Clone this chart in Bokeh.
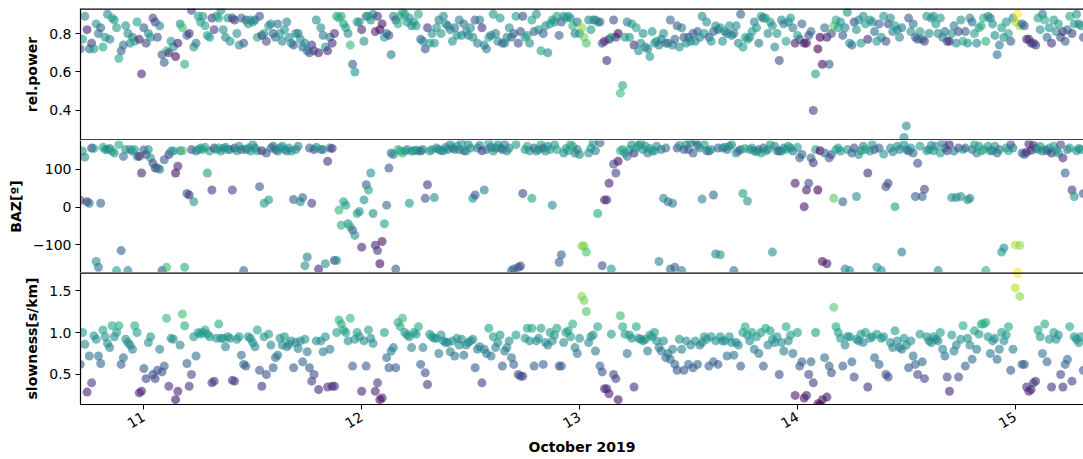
import math
import pandas as pd
from bokeh.plotting import figure
from bokeh.layouts import column
from bokeh.models import (ColumnDataSource, LinearColorMapper, FixedTicker,
                          DatetimeTickFormatter, PrintfTickFormatter, Range1d, Span)
from bokeh.palettes import Viridis256
from bokeh.embed import file_html
from bokeh.resources import INLINE

# Array-processing results, one estimate every 15 minutes
t_start = "2019-10-10 17:00"
t_step = "15min"

rel_power = [
    0.72, 0.77, 0.89, 0.82, 0.72, 0.75, 0.72, 0.85, 0.8, 0.83, 0.73, 0.78, 0.9,
    0.77, 0.88, 0.87, 0.83, 0.67, 0.71, 0.74, 0.84, 0.8, 0.75, 0.78, 0.76, 0.86,
    0.77, 0.59, 0.83, 0.75, 0.8, 0.78, 0.88, 0.86, 0.78, 0.84, 0.69, 0.65, 0.71,
    0.7, 0.76, 0.73, 0.68, 0.75, 0.85, 0.83, 0.64, 0.79, 0.8, 0.92, 0.73, 0.75, 0.89,
    0.86, 0.89, 0.84, 0.79, 0.78, 0.88, 0.82, 0.89, 0.88, 0.92, 0.82, 0.78, 0.88,
    0.76, 0.88, 0.87, 0.8, 0.74, 0.88, 0.75, 0.87, 0.85, 0.87, 0.86, 0.87, 0.78,
    0.89, 0.79, 0.8, 0.76, 0.84, 0.85, 0.8, 0.78, 0.85, 0.8, 0.76, 0.82, 0.86,
    0.78, 0.75, 0.74, 0.8, 0.8, 0.77, 0.73, 0.75, 0.71, 0.7, 0.74, 0.71, 0.87,
    0.7, 0.83, 0.79, 0.73, 0.71, 0.78, 0.75, 0.8, 0.89, 0.88, 0.89, 0.85, 0.83,
    0.8, 0.74, 0.64, 0.6, 0.86,
    0.86, 0.82, 0.76, 0.89, 0.89, 0.87, 0.9, 0.81, 0.89, 0.82, 0.85, 0.78, 0.8,
    0.79, 0.69, 0.89, 0.87, 0.85, 0.89, 0.91, 0.9, 0.86, 0.88, 0.84, 0.86, 0.84,
    0.9, 0.77, 0.76, 0.72, 0.83, 0.75, 0.8, 0.75, 0.83, 0.87, 0.8, 0.89, 0.85,
    0.84, 0.82, 0.76, 0.83, 0.79, 0.87, 0.79, 0.85, 0.81, 0.79, 0.83, 0.78, 0.87, 0.75,
    0.87, 0.83, 0.74, 0.72, 0.78, 0.79, 0.9, 0.8, 0.76, 0.88, 0.75, 0.75, 0.78,
    0.83, 0.78, 0.8, 0.89, 0.75, 0.81, 0.89, 0.78, 0.79, 0.75, 0.87, 0.81, 0.9,
    0.82, 0.71, 0.8, 0.84, 0.7, 0.85, 0.87, 0.86, 0.89, 0.79, 0.86, 0.89, 0.88,
    0.89, 0.88, 0.84, 0.8, 0.86, 0.8, 0.83, 0.78, 0.75, 0.87, 0.82, 0.87, 0.87, 0.86,
    0.86, 0.75, 0.76, 0.66, 0.77, 0.78, 0.87, 0.78, 0.8, 0.49, 0.53, 0.78, 0.86,
    0.78, 0.85, 0.74, 0.83, 0.71, 0.75, 0.8, 0.73, 0.72, 0.68, 0.81, 0.75, 0.76,
    0.74, 0.77, 0.8, 0.75, 0.75, 0.87, 0.74, 0.77, 0.84, 0.73, 0.83, 0.78, 0.75,
    0.78, 0.76, 0.8, 0.76, 0.81, 0.78, 0.89, 0.8, 0.86, 0.78, 0.76, 0.81, 0.84, 0.82,
    0.83, 0.76, 0.81, 0.8, 0.84, 0.79, 0.8, 0.84, 0.75, 0.9, 0.73, 0.78, 0.77,
    0.78, 0.81, 0.86, 0.83, 0.75, 0.89, 0.88, 0.88, 0.8, 0.86, 0.84, 0.73, 0.8, 0.66,
    0.87, 0.85, 0.76, 0.86, 0.88, 0.83, 0.75, 0.79, 0.77, 0.85, 0.75, 0.75, 0.79,
    0.81, 0.4, 0.59, 0.72, 0.78, 0.64, 0.83, 0.78, 0.64, 0.8, 0.84, 0.87, 0.83, 0.86,
    0.79, 0.83, 0.91, 0.75, 0.74, 0.86, 0.82, 0.87, 0.75, 0.89, 0.85, 0.77, 0.87,
    0.86, 0.81, 0.76, 0.85, 0.78, 0.89, 0.76, 0.85, 0.88, 0.81, 0.84, 0.82, 0.78,
    0.83, 0.26, 0.32, 0.88, 0.81, 0.85, 0.78, 0.77, 0.81, 0.77, 0.76, 0.89, 0.8, 0.88,
    0.89, 0.85, 0.8, 0.88, 0.78, 0.81, 0.76, 0.76, 0.8, 0.84, 0.75, 0.81, 0.87,
    0.76, 0.81, 0.75, 0.88, 0.86, 0.8, 0.75, 0.83, 0.84, 0.88, 0.76, 0.89, 0.88,
    0.85, 0.79, 0.69, 0.74, 0.83, 0.78, 0.86, 0.8, 0.76, 0.88, 0.86, 0.9, 0.84, 0.85,
    0.84, 0.77, 0.77, 0.75, 0.75, 0.74, 0.88, 0.82, 0.9, 0.87, 0.78, 0.83, 0.75,
    0.87, 0.81, 0.85, 0.78, 0.81, 0.76, 0.82, 0.89, 0.8, 0.85, 0.9, 0.85, 0.84, 0.78,
]

baz = [
    18, 148, 132, 14, 10, 156, 155, -144, -159, 10, 158, 152, 152,
    155, 148, 143, -168, 165, -115, 134, 152, -168, 152, 148, 152, 134,
    134, 90, 151, 139, 152, 130, 116, 103, 103, 100, -168, 125, -159,
    139, 148, 148, 90, 108, 149, 149, -159, 36, 32, 152, 14, 148, 152,
    156, 152, 158, 90, 148, 45, 156, 152, 156, 148, 155, 158, 152,
    152, 45, 156, 149, 161, 152, -168, 152, 156, 148, 165, 156, 149,
    54, 149, 10, 143, 19, 156, 161, 152, 148, 156, 161, 152, 148,
    156, 148, 20, 152, 161, 14, 25, -155, -132, 156, 10, 152, 158,
    -164, 152, 152, -150, 121, 156, 155, -141, -141, -8, -48, 14, 5,
    -44, -52, -61, -75, -17,
    -12, -106, 19, 59, 45, 90, -17, -101, -115, -150, -91, -44, 5,
    103, 143, 139, -164, 152, 148, 143, 148, 152, 10, 148, 149, 150,
    149, 148, 152, 23, 59, 148, 152, 25, 156, 152, 149, 149, 158,
    152, 165, 156, 152, 161, 152, 170, 149, 148, 165, 156, 23, 32, 156,
    163, 149, 45, 152, 170, 158, 148, 156, 165, 156, 152, 165, 148,
    156, -168, -164, 165, -159, -156, 36, 152, 161, 149, 23, 156, 148,
    152, 165, 156, 148, 161, 152, 5, 165, 152, -146, -126, 143, 155,
    149, 165, 161, 143, 152, 139, -103, -103, -119, 143, 156, 170, 149, -17,
    170, -155, 19, 19, 63, -164, 114, 90, 121, 149, 152, 143, 134,
    152, 165, 143, 156, 163, 170, 152, 161, 143, 155, 148, 149, 161,
    -144, 152, 23, 156, 14, -164, 10, -159, 156, 163, -168, 152, 165,
    152, 170, 143, 174, 163, 156, 21, 165, 149, 148, 152, 32, -124, 156,
    -126, 156, 158, 152, 161, 165, -168, 143, 148, 152, 36, 155, 16,
    152, 156, 149, 146, 152, 143, 156, 148, 152, 165, -119, 161, 149, 148,
    148, 156, 152, 161, 156, 148, 63, 158, 130, 139, 1, 45, 63,
    130, 117, 152, 45, 149, -144, 143, -150, 130, 139, 23, 152, 156, 148,
    14, -164, 152, -168, 143, 156, 28, 139, 149, 161, 152, 90, 148,
    165, 152, -159, 156, -168, 140, 54, 63, 156, 146, 1, 161, 152,
    -119, 165, 152, 148, 156, 143, 28, 116, 161, 28, 47, 149, 152, 163,
    149, 161, -168, 143, 170, 156, 149, 165, 25, 148, 25, 156, 28,
    152, 156, 19, 23, 152, 165, 143, 161, 148, 152, -168, 161, 149,
    149, 161, 143, 152, -119, -108, 156, 149, 165, 156, -100, -172, -101, 143,
    139, 145, 167, 150, 163, 155, 152, 160, 148, 152, 149, 156, 143,
    161, 148, 143, 165, 130, 90, 152, 156, 45, 28, 149, 155, 152, 36,
]

slowness = [
    0.62, 1.0, 0.86, 0.29, 0.72, 0.4, 0.96, 0.92, 0.72, 0.63, 1.03, 0.95, 0.87,
    0.82, 1.08, 0.95, 1.0, 1.08, 0.62, 0.7, 0.92, 0.88, 0.85, 0.8, 1.08, 1.0,
    0.28, 0.3, 0.57, 0.45, 0.88, 0.95, 0.5, 0.45, 0.55, 0.8, 0.53, 0.6, 1.17,
    0.36, 0.93, 0.92, 0.2, 0.3, 0.85, 1.22, 1.08, 0.63, 0.36, 0.5, 0.95, 0.72, 1.0,
    0.98, 1.0, 1.03, 0.98, 0.95, 0.4, 0.42, 0.93, 1.1, 0.93, 0.93, 0.83, 0.95,
    0.93, 0.43, 0.42, 0.92, 0.95, 0.73, 0.62, 0.6, 0.95, 0.93, 0.88, 0.83, 1.03,
    0.55, 0.36, 0.95, 0.5, 0.98, 0.85, 0.58, 0.7, 0.73, 0.93, 0.85, 0.95, 0.83,
    0.86, 0.9, 0.58, 0.88, 0.81, 0.9, 0.65, 0.92, 0.77, 0.58, 0.42, 0.5, 0.9,
    0.32, 0.9, 0.77, 0.95, 0.35, 0.8, 0.36, 0.36, 1.0, 1.15, 1.1, 1.03, 1.0,
    0.9, 1.17, 0.6, 0.92, 1.0,
    0.95, 0.3, 0.9, 0.6, 1.03, 0.93, 0.87, 0.3, 0.4, 0.2, 0.22, 1.0, 0.7,
    0.58, 0.78, 0.82, 0.58, 1.12, 1.07, 1.17, 1.0, 0.97, 0.95, 0.82, 1.0, 0.98,
    1.07, 0.62, 0.82, 0.52, 0.38, 0.98, 0.95, 0.93, 0.93, 0.75, 0.97, 0.9, 0.88,
    0.88, 0.77, 0.9, 0.72, 0.93, 0.85, 0.92, 0.73, 0.85, 0.88, 0.9, 0.92, 0.58, 0.8,
    0.83, 0.4, 0.8, 0.75, 1.05, 0.72, 0.95, 0.82, 0.88, 0.97, 0.6, 0.78, 0.82,
    0.9, 0.7, 0.62, 0.97, 0.5, 0.48, 0.48, 0.93, 1.05, 0.9, 1.05, 0.6, 0.9,
    0.93, 1.05, 0.62, 0.88, 0.85, 1.0, 0.9, 0.97, 1.05, 0.6, 0.6, 0.88, 1.0,
    1.02, 0.95, 1.1, 0.82, 0.75, 0.93, 1.43, 1.38, 1.25, 0.88, 0.95, 0.97, 0.78, 1.07,
    0.6, 0.53, 0.33, 0.33, 0.27, 0.98, 0.5, 0.45, 0.2, 1.2, 1.07, 0.98, 0.75,
    0.97, 0.93, 0.35, 1.07, 0.93, 0.92, 0.9, 0.92, 0.78, 0.97, 0.95, 1.0, 0.9,
    0.82, 0.78, 0.9, 0.7, 0.75, 0.68, 0.8, 0.62, 0.55, 0.92, 0.8, 0.55, 0.9,
    0.62, 0.85, 0.58, 0.9, 0.62, 0.85, 0.88, 0.95, 0.92, 0.6, 0.95, 0.65, 0.9, 0.62,
    0.95, 0.9, 0.9, 0.72, 0.95, 0.88, 0.73, 0.88, 0.85, 0.6, 1.0, 1.07, 0.97,
    0.9, 1.0, 0.8, 0.95, 0.75, 1.0, 0.6, 1.05, 0.85, 1.02, 0.92, 0.88, 0.95, 0.5,
    0.88, 0.78, 1.07, 0.9, 0.97, 0.75, 0.25, 1.0, 0.6, 0.65, 0.22, 0.25, 0.5,
    0.65, 0.4, 1.0, 0.15, 0.14, 0.2, 0.7, 0.23, 0.6, 0.52, 1.3, 1.07, 1.0, 0.93,
    0.6, 0.85, 0.95, 0.95, 0.65, 0.47, 0.92, 0.9, 0.98, 0.88, 1.0, 0.35, 0.93,
    0.95, 0.7, 0.98, 0.62, 0.93, 0.95, 0.5, 0.47, 0.88, 0.82, 1.02, 0.9, 0.82,
    0.8, 0.93, 0.85, 0.58, 0.9, 0.72, 0.62, 0.5, 0.98, 0.65, 0.45, 0.95, 0.9, 0.88,
    0.95, 0.92, 0.9, 1.0, 0.8, 0.72, 0.47, 0.3, 0.97, 0.78, 0.85, 0.47, 0.92,
    1.08, 0.6, 0.93, 0.85, 0.68, 1.02, 0.8, 0.98, 1.1, 1.1, 1.12, 0.95, 0.75,
    0.9, 0.93, 0.68, 0.8, 1.0, 0.9, 0.97, 1.07, 0.55, 0.8, 1.53, 1.7, 1.43, 0.62,
    0.62, 0.35, 0.3, 0.32, 0.4, 0.42, 1.03, 0.95, 0.75, 1.1, 0.65, 0.92, 0.35,
    1.0, 0.92, 0.97, 0.5, 0.35, 0.62, 0.68, 1.07, 0.42, 0.95, 0.92, 0.88, 0.95, 0.55,
]

day_ticks = ["2019-10-11", "2019-10-12", "2019-10-13", "2019-10-14", "2019-10-15"]

n = min(len(rel_power), len(baz), len(slowness))
times = pd.date_range(t_start, periods=n, freq=t_step)
source = ColumnDataSource(dict(t=times, rp=rel_power[:n], baz=baz[:n], slow=slowness[:n]))

mapper = LinearColorMapper(palette=Viridis256, low=min(slowness), high=max(slowness))
x_range = Range1d(pd.Timestamp("2019-10-10 17:01:30"), pd.Timestamp("2019-10-15 07:31:00"))
tick_ms = [pd.Timestamp(d).value // 10**6 for d in day_ticks]

FONT = "DejaVu Sans"


def panel(height, y_range, ycol, ylabel, yticks, spines=(), top=0, bottom=0, with_x=False):
    p = figure(width=1083, height=height, x_range=x_range, y_range=y_range,
               x_axis_type="datetime", x_axis_location="below" if with_x else None,
               output_backend="svg", toolbar_location=None,
               min_border_left=80, min_border_right=0,
               min_border_top=top, min_border_bottom=bottom)
    p.background_fill_color = "white"
    p.border_fill_color = "white"
    p.outline_line_color = None
    p.xgrid.visible = False
    p.ygrid.visible = False
    p.scatter(x="t", y=ycol, source=source, size=9,
              fill_color={"field": "slow", "transform": mapper},
              fill_alpha=0.6, line_color=None)
    # horizontal frame edges between the stacked panels
    for loc in spines:
        p.add_layout(Span(location=loc, dimension="width",
                          line_color="black", line_width=2.6))
    ya = p.yaxis[0]
    ya.ticker = FixedTicker(ticks=yticks)
    ya.axis_label = ylabel
    ya.axis_label_text_font = FONT
    ya.axis_label_text_font_size = "14px"
    ya.axis_label_text_font_style = "bold"
    ya.axis_label_text_color = "black"
    ya.axis_label_standoff = 6
    ya.major_label_text_font = FONT
    ya.major_label_text_font_size = "14px"
    ya.major_label_text_color = "black"
    ya.major_label_standoff = 4
    ya.major_tick_out = 5
    ya.major_tick_in = 0
    ya.minor_tick_out = 0
    ya.minor_tick_in = 0
    ya.axis_line_color = "black"
    ya.axis_line_width = 1.2
    ya.major_tick_line_color = "black"
    return p


rp_range = Range1d(0.244, 0.93)
baz_range = Range1d(-173, 176)
slow_range = Range1d(0.142, 1.715)

p1 = panel(140, rp_range, "rp", "rel.power", [0.4, 0.6, 0.8],
           spines=(rp_range.start, rp_range.end), top=8)
p1.yaxis[0].formatter = PrintfTickFormatter(format="%.1f")

p2 = panel(132, baz_range, "baz", "BAZ[º]", [-100, 0, 100])
p2.yaxis[0].major_label_overrides = {-100: "\u2212100", 0: "0", 100: "100"}

p3 = panel(187, slow_range, "slow", "slowness[s/km]", [0.5, 1.0, 1.5],
           spines=(slow_range.end,), bottom=55, with_x=True)
p3.yaxis[0].formatter = PrintfTickFormatter(format="%.1f")

xa = p3.xaxis[0]
xa.ticker = FixedTicker(ticks=tick_ms)
xa.formatter = DatetimeTickFormatter(days="%d", hours="%d", months="%d",
                                     minutes="%d", hourmin="%d")
xa.major_label_orientation = math.pi / 6
xa.axis_label = "October 2019"
xa.axis_label_text_font = FONT
xa.axis_label_text_font_size = "14px"
xa.axis_label_text_font_style = "bold"
xa.axis_label_text_color = "black"
xa.axis_label_standoff = 3
xa.major_label_text_font = FONT
xa.major_label_text_font_size = "14px"
xa.major_label_text_color = "black"
xa.major_label_standoff = 6
xa.major_tick_out = 5
xa.major_tick_in = 0
xa.minor_tick_out = 0
xa.minor_tick_in = 0
xa.axis_line_color = "black"
xa.axis_line_width = 1.2
xa.major_tick_line_color = "black"

layout = column(p1, p2, p3, spacing=0)
open("out.html", "w").write(file_html(layout, INLINE))
